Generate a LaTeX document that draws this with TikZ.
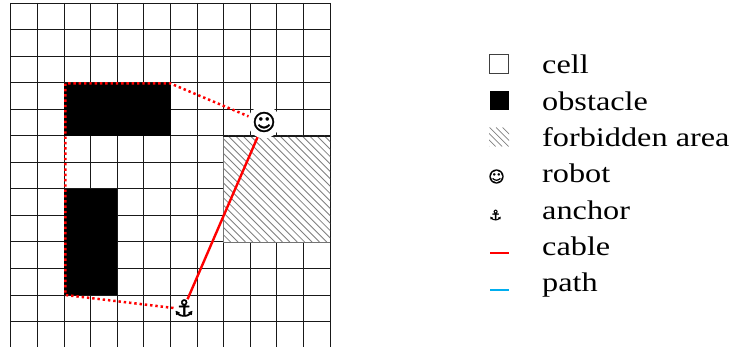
\documentclass[tikz,border=0pt]{standalone}
\usepackage{fontspec}
\setmainfont[FakeStretch=1.2]{Liberation Serif}
\newfontfamily\symfont[FakeBold=1.2]{DejaVu Sans}
\newfontfamily\symlegend[FakeBold=0.6]{DejaVu Sans}
\newfontfamily\symbold[FakeBold=1.8]{DejaVu Sans}
\definecolor{cablered}{RGB}{255,0,0}
\definecolor{pathblue}{RGB}{0,174,239}
\tikzset{
  gridline/.style={black!90,line width=0.95pt},
  obstaclefill/.style={fill=black,draw=none},
  hatchline/.style={black!50,line width=0.85pt},
  cableline/.style={draw=cablered,line width=2.4pt},
  routeline/.style={draw=cablered,line width=2.5pt,dash pattern=on 2.4pt off 2.9pt},
  legendtext/.style={anchor=base west,inner sep=0pt,font=\fontsize{26.9}{30}\selectfont},
  legendbox/.style={minimum size=19pt,inner sep=0pt,line width=1pt},
  robotmark/.style={fill=white,circle,inner sep=0.5pt,font=\symfont\fontsize{23}{23}\selectfont},
  anchormark/.style={inner sep=0pt,font=\symbold\fontsize{23}{23}\selectfont},
}
\begin{document}
\begin{tikzpicture}[x=1pt,y=-1pt]
\useasboundingbox (0,0) rectangle (731,347);
% grid
\foreach \i in {0,...,12} \draw[gridline] ({10.8+\i*26.6},3) -- ({10.8+\i*26.6},347);
\foreach \j in {0,...,13} \draw[gridline] (10.8,{3+\j*26.55}) -- (330,{3+\j*26.55});
% obstacles
\fill[obstaclefill] (64,83) rectangle (170.5,136);
\fill[obstaclefill] (64,189) rectangle (117,295);
% forbidden area
\fill[white] (223.2,136) rectangle (330,242);
\begin{scope}
\clip (223.2,136) rectangle (330,242);
\foreach \k in {0,...,29} \draw[hatchline] ({223.2-106+\k*7.4},136) -- ({223.2+\k*7.4},242);
\end{scope}
\draw[gridline,black!55] (223.2,136) -- (223.2,242);
\draw[gridline] (223.2,136) -- (330,136);
\draw[gridline,black!55] (223.2,242) -- (330,242);
% robot and anchor
\node[robotmark] (robot) at (264,122) {☺};
\node[anchormark] (anchor) at (184,308) {⚓};
\coordinate (c1) at (65.3,295);
\coordinate (c2) at (65.3,83.5);
\coordinate (c3) at (170.5,83.5);
\draw[routeline] (anchor.west) -- (c1) -- (c2) -- (c3) -- (robot.160);
\draw[cableline] (anchor.68) -- (robot.247);
% legend
\node[legendbox,draw=black!75,fill=white] (lcell) at (499,64.5) {};
\node[legendbox,fill=black] (lobst) at (499,100.5) {};
\node[legendbox] (lhatch) at (499,137) {};
\begin{scope}
\clip (lhatch.south west) rectangle (lhatch.north east);
\foreach \k in {0,...,5} \draw[black!50,line width=0.7pt] ({489-19+\k*6.5},127.5) -- ({489+\k*6.5},146.5);
\end{scope}
\node[inner sep=0pt,font=\symlegend\fontsize{16}{16}\selectfont] (lrobot) at (496.5,176.5) {☺};
\node[inner sep=0pt,font=\symbold\fontsize{14}{14}\selectfont] (lanchor) at (495.5,215) {⚓};
\coordinate (la) at (490,253);\coordinate (lb) at (509,253);
\draw[draw=cablered,line width=2pt] (la) -- (lb);
\coordinate (lc) at (490,290);\coordinate (ld) at (509,290);
\draw[draw=pathblue,line width=2pt] (lc) -- (ld);
\node[legendtext] (t1) at (542,74) {cell};
\node[legendtext] (t2) at (542,110.5) {obstacle};
\node[legendtext] (t3) at (542,147) {forbidden area};
\node[legendtext] (t4) at (542,183) {robot};
\node[legendtext] (t5) at (542,219.5) {anchor};
\node[legendtext] (t6) at (542,256) {cable};
\node[legendtext] (t7) at (542,292) {path};
\end{tikzpicture}
\end{document}
